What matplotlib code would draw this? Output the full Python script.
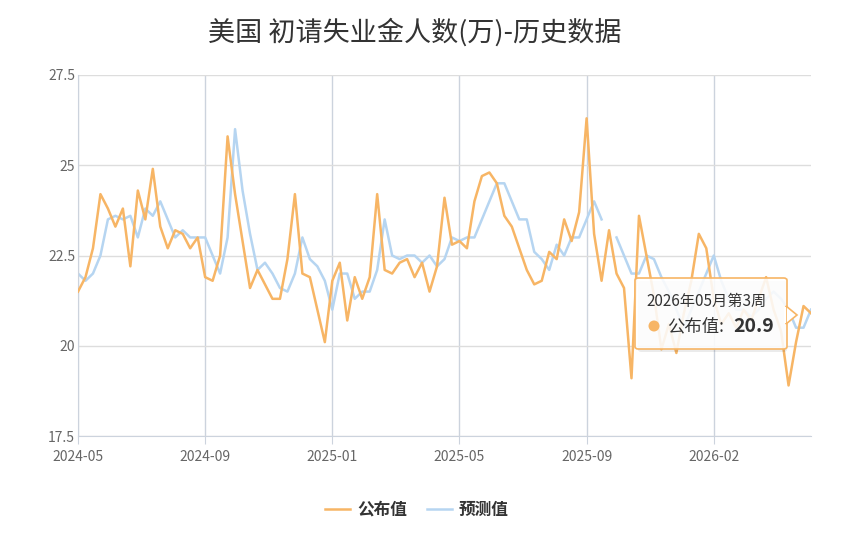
import matplotlib
matplotlib.use('Agg')
from matplotlib import pyplot as plt
from matplotlib.patches import FancyBboxPatch, Polygon, Ellipse
import numpy as np

plt.rcParams['font.family'] = ['Noto Sans CJK SC', 'DejaVu Sans']

# 公布值 / 预测值 (万), weekly, 2024-05 .. 2026-05 第3周
published = [21.5, 21.9, 22.7, 24.2, 23.8, 23.3, 23.8, 22.2, 24.3, 23.5,
             24.9, 23.3, 22.7, 23.2, 23.1, 22.7, 23.0, 21.9, 21.8, 22.5,
             25.8, 24.2, 22.9, 21.6, 22.1, 21.7, 21.3, 21.3, 22.4, 24.2,
             22.0, 21.9, 21.0, 20.1, 21.8, 22.3, 20.7, 21.9, 21.3, 21.9,
             24.2, 22.1, 22.0, 22.3, 22.4, 21.9, 22.3, 21.5, 22.2, 24.1,
             22.8, 22.9, 22.7, 24.0, 24.7, 24.8, 24.5, 23.6, 23.3, 22.7,
             22.1, 21.7, 21.8, 22.6, 22.4, 23.5, 22.9, 23.7, 26.3, 23.1,
             21.8, 23.2, 22.0, 21.6, 19.1, 23.6, 22.5, 21.4, 19.9, 20.6,
             19.8, 20.9, 21.8, 23.1, 22.7, 21.3, 20.6, 20.9, 20.5, 21.0,
             20.7, 21.3, 21.9, 21.0, 20.4, 18.9, 20.1, 21.1, 20.9]
forecast = [22.0, 21.8, 22.0, 22.5, 23.5, 23.6, 23.5, 23.6, 23.0, 23.8,
            23.6, 24.0, 23.5, 23.0, 23.2, 23.0, 23.0, 23.0, 22.5, 22.0,
            23.0, 26.0, 24.3, 23.1, 22.1, 22.3, 22.0, 21.6, 21.5, 22.0,
            23.0, 22.4, 22.2, 21.8, 21.0, 22.0, 22.0, 21.3, 21.5, 21.5,
            22.1, 23.5, 22.5, 22.4, 22.5, 22.5, 22.3, 22.5, 22.2, 22.4,
            23.0, 22.9, 23.0, 23.0, 23.5, 24.0, 24.5, 24.5, 24.0, 23.5,
            23.5, 22.6, 22.4, 22.1, 22.8, 22.5, 23.0, 23.0, 23.5, 24.0,
            23.5, None, 23.0, 22.5, 22.0, 22.0, 22.5, 22.4, 21.9, 21.5,
            21.0, 20.5, 21.0, 21.5, 22.0, 22.5, 21.8, 21.3, 21.0, 21.0,
            20.8, 21.0, 21.3, 21.5, 21.3, 21.0, 20.5, 20.5, 21.0]
tick_pos = [0, 17, 34, 51, 68, 85]
tick_labels = ['2024-05', '2024-09', '2025-01', '2025-05', '2025-09', '2026-02']
y_ticks = [17.5, 20, 22.5, 25, 27.5]
y_labels = ['17.5', '20', '22.5', '25', '27.5']

W, H = 843, 546
fig = plt.figure(figsize=(W / 100, H / 100), dpi=100)
ax = fig.add_axes([78 / W, 1 - 436 / H, (811 - 78) / W, (436 - 75) / H])

x = np.arange(len(published))
fc = np.array([np.nan if v is None else v for v in forecast])
orange = '#F7B565'
blue = '#B6D5F1'
ax.plot(x, published, color=orange, lw=1.8, label='公布值', zorder=3)
ax.plot(x, fc, color=blue, lw=1.8, label='预测值', zorder=2)

ax.set_xlim(0, len(published) - 1)
ax.set_ylim(17.5, 27.5)
ax.set_yticks(y_ticks)
ax.set_yticklabels(y_labels)
ax.set_xticks(tick_pos)
ax.set_xticklabels(tick_labels)
ax.grid(axis='y', color='#dddddd', lw=1)
ax.grid(axis='x', color='#ccd3dd', lw=1)
for s in ['top', 'right']:
    ax.spines[s].set_visible(False)
for s in ['left', 'bottom']:
    ax.spines[s].set_color('#ccd3dd')
ax.tick_params(axis='x', length=6, color='#ccd3dd', labelsize=10, labelcolor='#666666', pad=4)
ax.tick_params(axis='y', length=0, labelsize=10, labelcolor='#666666', pad=2)

fig.text(415 / W, 1 - 32 / H, '美国 初请失业金人数(万)-历史数据', ha='center', va='center',
         fontsize=19.5, color='#333333')

leg = fig.legend(loc='center', bbox_to_anchor=(417 / W, 1 - 510 / H), ncol=2, frameon=False,
                 handlelength=1.5, columnspacing=1.2, handletextpad=0.4,
                 prop={'size': 12, 'weight': 'bold'})
for t in leg.get_texts():
    t.set_color('#333333')

# tooltip
def fx(px):
    return px / W


def fy(py):
    return 1 - py / H


shadow = FancyBboxPatch((fx(638), fy(352)), fx(787) - fx(638), fy(281) - fy(352),
                        boxstyle='round,pad=0,rounding_size=0.004', transform=fig.transFigure,
                        facecolor='#000000', alpha=0.08, edgecolor='none', zorder=9)
fig.add_artist(shadow)
box = FancyBboxPatch((fx(635), fy(349)), fx(787) - fx(635), fy(278) - fy(349),
                     boxstyle='round,pad=0,rounding_size=0.004', transform=fig.transFigure,
                     facecolor=(1, 1, 1, 0.88), edgecolor=orange, lw=1.2, zorder=10)
fig.add_artist(box)
arrow = Polygon([(fx(786), fy(306)), (fx(797), fy(315)), (fx(786), fy(324))], closed=True,
                transform=fig.transFigure, facecolor='white', edgecolor=orange, lw=1.2, zorder=11)
fig.add_artist(arrow)
fig.add_artist(Polygon([(fx(785.5), fy(307)), (fx(785.5), fy(323)), (fx(784), fy(323)), (fx(784), fy(307))],
                       closed=True, transform=fig.transFigure, facecolor='white', edgecolor='none', zorder=12))
fig.add_artist(Ellipse((fx(654), fy(326)), 11 / W, 11 / H, transform=fig.transFigure, facecolor=orange,
                       edgecolor='none', zorder=12))
fig.text(fx(646), fy(301), '2026年05月第3周', ha='left', va='center', fontsize=11, color='#333333', zorder=13)
fig.text(fx(667), fy(326), '公布值:', ha='left', va='center', fontsize=12.5, color='#333333', zorder=13)
fig.text(fx(733), fy(326), '20.9', ha='left', va='center', fontsize=14, color='#333333',
         fontweight='bold', zorder=13)

fig.savefig('out.png', dpi=100)
